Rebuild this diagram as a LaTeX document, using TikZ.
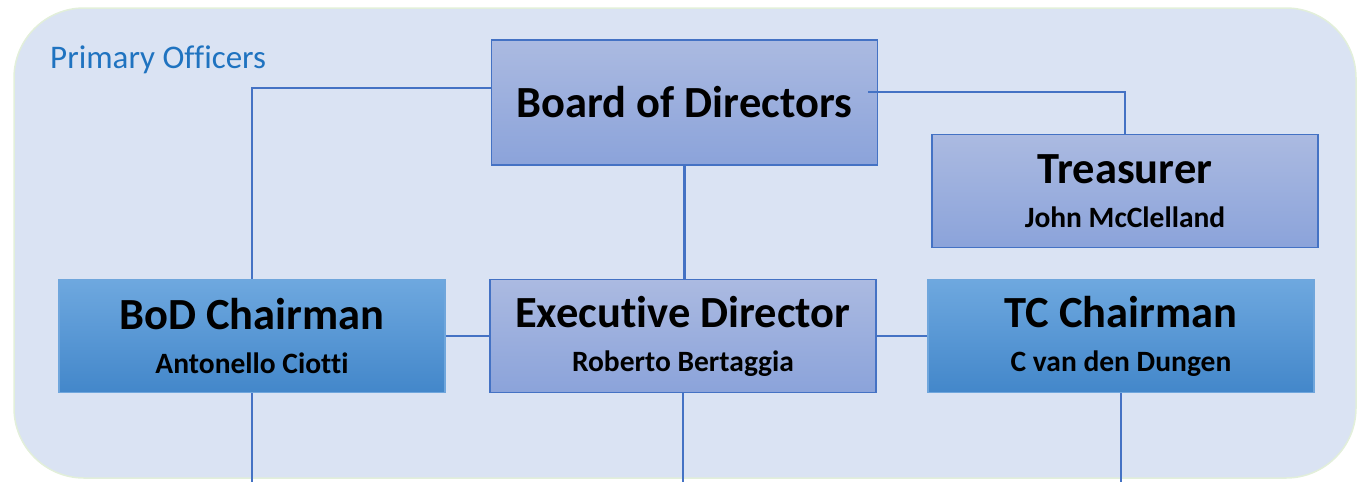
\documentclass[tikz,border=0pt]{standalone}
\usepackage{fontspec}
\setmainfont{Carlito}[Ligatures=NoCommon]
\usetikzlibrary{positioning, arrows.meta}
\definecolor{orgpanel}{HTML}{DAE3F3}
\definecolor{orgpanelrim}{HTML}{E2EFDA}
\definecolor{orgline}{HTML}{4472C4}
\definecolor{orglabel}{HTML}{1F73C0}
\definecolor{orgmauvetop}{HTML}{ABBAE1}
\definecolor{orgmauvebot}{HTML}{8BA3DA}
\definecolor{orgbluetop}{HTML}{6EA8DF}
\definecolor{orgbluebot}{HTML}{4387CA}
\definecolor{orgbluerim}{HTML}{6FA6DC}

\begin{document}
\begin{tikzpicture}[x=1pt, y=-1pt,
        officebox/.style={rectangle, align=center, minimum width=386pt, minimum height=113pt,
            line width=1.5pt, font=\bfseries\fontsize{44.5}{44}\selectfont},
        mauvebox/.style={officebox, draw=orgline, top color=orgmauvetop, bottom color=orgmauvebot},
        bluebox/.style={officebox, draw=orgbluerim, top color=orgbluetop, bottom color=orgbluebot},
        link/.style={draw=orgline, line width=2.5pt}
    ]
      \useasboundingbox (0,0) rectangle (1357,482);
      \draw[orgpanelrim, fill=orgpanel, line width=1.5pt, rounded corners=70pt] (14,8) rectangle (1356,478);
      \node[anchor=west, inner sep=0pt, text=orglabel, font=\fontsize{33}{33}\selectfont] (panel) at (50,60) {Primary Officers};

      \node[mauvebox, minimum height=125pt] (board) at (684.5,102.5) {Board of Directors};
      \node[mauvebox] (treas) at (1125,191)
           {Treasurer\\\fontsize{29.5}{42}\selectfont John McClelland};
      \node[bluebox] (bod) at (252,336)
           {BoD Chairman\\\fontsize{29.5}{42}\selectfont Antonello Ciotti};
      \node[mauvebox] (exec) at (683,336)
           {Executive Director\\\fontsize{29.5}{42}\selectfont Roberto Bertaggia};
      \node[bluebox] (tc) at (1121,336)
           {TC Chairman\\\fontsize{29.5}{42}\selectfont C van den Dungen};
      \coordinate (bottom) at (0,482);

      \draw[link] ([yshift=14.5pt]board.west) -| (bod.north);
      \draw[link] ([xshift=-10pt, yshift=10.5pt]board.east) -| (treas.north);
      \draw[link] (board.south) -- (board.south |- exec.north);
      \draw[link] (bod.east) -- (exec.west);
      \draw[link] (exec.east) -- (tc.west);
      \draw[link] (bod.south) -- (bod.south |- bottom);
      \draw[link] (exec.south) -- (exec.south |- bottom);
      \draw[link] (tc.south) -- (tc.south |- bottom);
    \end{tikzpicture}
\end{document}
